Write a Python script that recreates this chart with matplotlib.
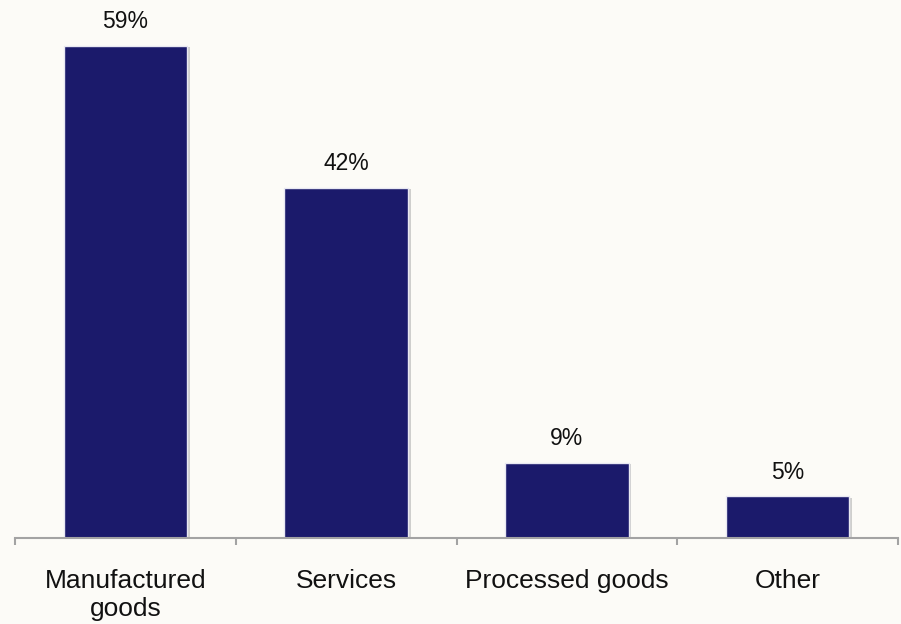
import matplotlib
matplotlib.use("Agg")
import matplotlib.pyplot as plt
import matplotlib.patheffects as pe

categories = ["Manufactured\ngoods", "Services", "Processed goods", "Other"]
values = [59, 42, 9, 5]
value_labels = ["59%", "42%", "9%", "5%"]

bg = "#fcfbf7"
bar_color = "#1b1a6b"
axis_color = "#a3a3a3"

plt.rcParams["font.family"] = ["Liberation Sans", "DejaVu Sans"]

fig = plt.figure(figsize=(9.01, 6.24), dpi=100, facecolor=bg)
ax = fig.add_axes([15 / 901, 86 / 624, 883 / 901, 538 / 624], facecolor=bg)

x = list(range(len(categories)))
bars = ax.bar(x, values, width=0.56, color=bar_color, edgecolor="#e8e8f2",
              linewidth=1.0, zorder=3)
for b in bars:
    b.set_path_effects([pe.SimplePatchShadow(offset=(2, -1), shadow_rgbFace="#9a9a9a",
                                             alpha=0.45), pe.Normal()])

for xi, v, lab in zip(x, values, value_labels):
    ax.annotate(lab, (xi, v), xytext=(0, 9), textcoords="offset points",
                ha="center", va="bottom", fontsize=16.5, color="#111111")

ax.set_xlim(-0.5, len(categories) - 0.5)
ax.set_ylim(0, 64.48)

for side in ("top", "right", "left"):
    ax.spines[side].set_visible(False)
ax.spines["bottom"].set_color(axis_color)
ax.spines["bottom"].set_linewidth(1.5)
ax.spines["bottom"].set_zorder(4)

ax.set_yticks([])
ax.set_xticks(x)
ax.set_xticklabels(categories, fontsize=19, linespacing=1.25, color="#111111")
ax.tick_params(axis="x", which="major", length=0, pad=22)
ax.set_xticks([i - 0.5 for i in range(len(categories) + 1)], minor=True)
ax.tick_params(axis="x", which="minor", length=5, width=1.5, color=axis_color,
               direction="out")

fig.savefig("out.png", dpi=100, facecolor=bg)
